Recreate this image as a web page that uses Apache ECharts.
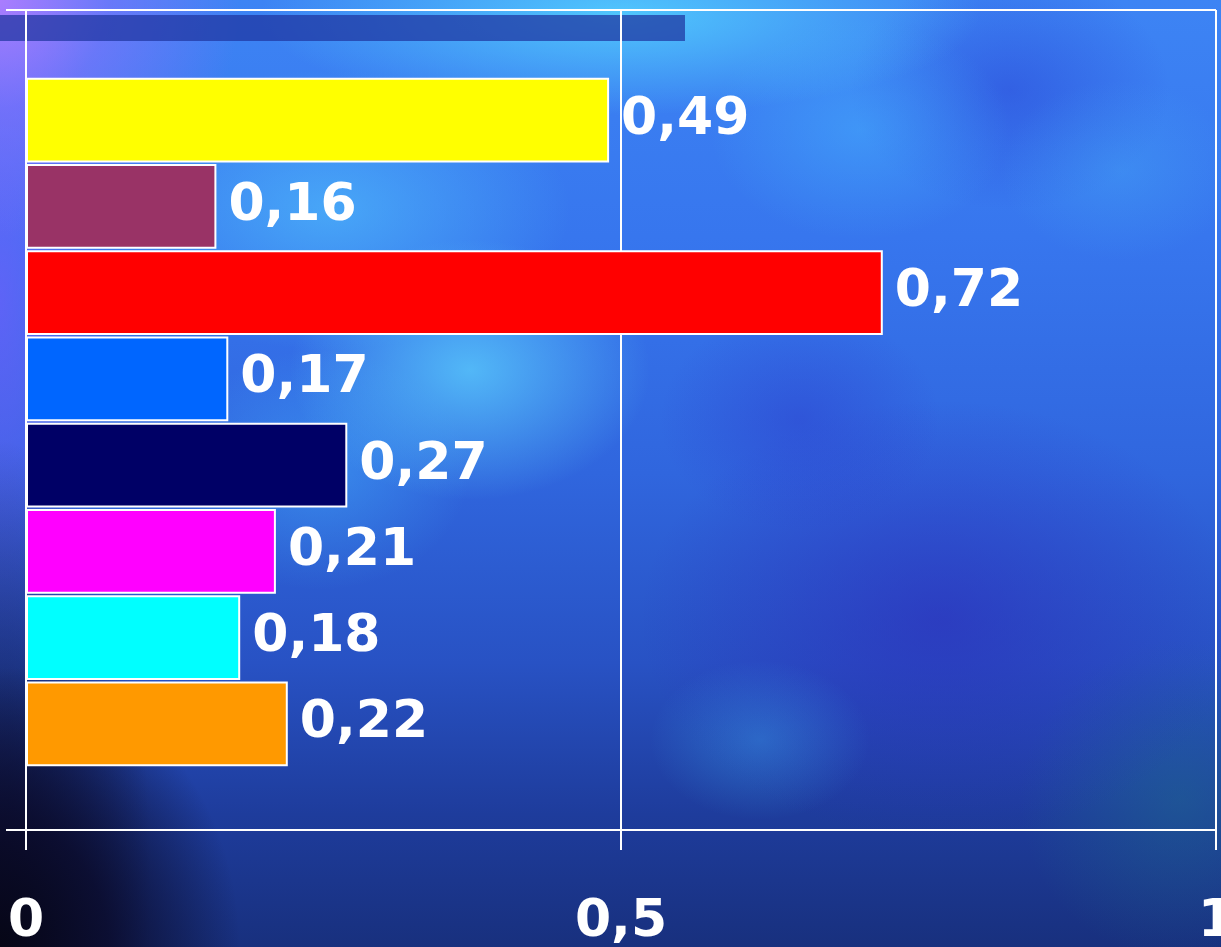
<!DOCTYPE html>
<html>
<head>
<meta charset="utf-8">
<script src="https://cdn.jsdelivr.net/npm/echarts@6/dist/echarts.min.js"></script>
<style>
  html, body { margin: 0; padding: 0; width: 1221px; height: 947px; overflow: hidden; }
  #bg {
    position: absolute; left: 0; top: 0; width: 1221px; height: 947px;
    background:
      radial-gradient(ellipse 240px 280px at 0px 947px, rgba(6,6,22,1) 0%, rgba(10,10,40,0.85) 45%, rgba(10,10,40,0) 100%),
      radial-gradient(ellipse 150px 420px at 0px 860px, rgba(12,12,45,0.8) 0%, rgba(12,12,45,0) 100%),
      radial-gradient(ellipse 240px 240px at 0px 0px, rgba(175,125,255,0.95) 0%, rgba(150,110,255,0.5) 45%, rgba(150,110,255,0) 100%),
      radial-gradient(ellipse 110px 380px at 0px 300px, rgba(120,90,255,0.6) 0%, rgba(120,90,255,0) 100%),
      radial-gradient(ellipse 180px 130px at 470px 370px, rgba(95,215,255,0.7) 0%, rgba(95,215,255,0) 100%),
      radial-gradient(ellipse 240px 140px at 330px 210px, rgba(85,205,255,0.55) 0%, rgba(85,205,255,0) 100%),
      radial-gradient(ellipse 360px 100px at 620px 15px, rgba(85,215,255,0.8) 0%, rgba(85,215,255,0) 100%),
      radial-gradient(ellipse 150px 110px at 860px 130px, rgba(70,180,255,0.45) 0%, rgba(70,180,255,0) 100%),
      radial-gradient(ellipse 120px 90px at 1120px 170px, rgba(70,170,245,0.35) 0%, rgba(70,170,245,0) 100%),
      radial-gradient(ellipse 110px 80px at 760px 740px, rgba(60,170,240,0.35) 0%, rgba(60,170,240,0) 100%),
      radial-gradient(ellipse 150px 120px at 320px 470px, rgba(70,190,255,0.4) 0%, rgba(70,190,255,0) 100%),
      radial-gradient(ellipse 160px 120px at 1010px 90px, rgba(40,60,210,0.45) 0%, rgba(40,60,210,0) 100%),
      radial-gradient(ellipse 140px 110px at 800px 420px, rgba(45,60,205,0.45) 0%, rgba(45,60,205,0) 100%),
      radial-gradient(ellipse 300px 220px at 940px 620px, rgba(45,40,185,0.55) 0%, rgba(45,40,185,0) 100%),
      radial-gradient(ellipse 160px 160px at 1180px 800px, rgba(30,110,140,0.45) 0%, rgba(30,110,140,0) 100%),
      linear-gradient(to bottom, #3d84f4 0%, #3776ee 25%, #3066de 50%, #2852c4 70%, #1e3c9c 86%, #18307e 100%);
  }
  #chart { position: absolute; left: 0; top: 0; width: 1221px; height: 947px; }
</style>
</head>
<body>
<div id="bg"></div>
<div id="chart"></div>
<script>
// Bar chart data, listed top to bottom
const categories = ['A', 'B', 'C', 'D', 'E', 'F', 'G', 'H'];
const values = [0.49, 0.16, 0.72, 0.17, 0.27, 0.21, 0.18, 0.22];
const barColors = ['#ffff00', '#993366', '#ff0000', '#0066ff', '#000066', '#ff00ff', '#00ffff', '#ff9900'];
const xTicks = [0, 0.5, 1];

const commaDecimal = v => String(v).replace('.', ',');
const white = '#ffffff';
const textFont = { color: white, fontSize: 52, fontWeight: 'bold', fontFamily: 'DejaVu Sans' };

const chart = echarts.init(document.getElementById('chart'), null, { renderer: 'canvas' });

chart.setOption({
  backgroundColor: 'transparent',
  animation: false,
  graphic: [{
    type: 'rect',
    left: 0, top: 15,
    shape: { width: 685, height: 26 },
    style: { fill: 'rgba(30,52,160,0.72)' },
    z: 0
  }],
  grid: [
    // frame grid: split lines, ticks and the value labels
    { left: 26, right: 5, top: 10, bottom: 117, outerBoundsMode: 'none', containLabel: false },
    // bar grid: the eight bands sit inside the frame
    { left: 26, right: 5, top: 77, bottom: 180, outerBoundsMode: 'none', containLabel: false }
  ],
  xAxis: [
    {
      gridIndex: 0, type: 'value',
      min: xTicks[0], max: xTicks[xTicks.length - 1], interval: xTicks[1] - xTicks[0],
      axisLine: { show: true, lineStyle: { color: white, width: 2 } },
      axisTick: { show: true, length: 20, lineStyle: { color: white, width: 2 } },
      splitLine: { show: true, lineStyle: { color: white, width: 2 } },
      axisLabel: Object.assign({ margin: 66, formatter: commaDecimal, hideOverlap: false }, textFont)
    },
    { gridIndex: 1, type: 'value', min: 0, max: 1, show: false }
  ],
  yAxis: [
    {
      gridIndex: 0, type: 'value', min: 0, max: 1, interval: 1,
      axisLine: { show: true, lineStyle: { color: white, width: 2 } },
      axisTick: { show: true, length: 20, lineStyle: { color: white, width: 2 } },
      splitLine: { show: true, lineStyle: { color: white, width: 2 } },
      axisLabel: { show: false }
    },
    { gridIndex: 1, type: 'category', data: categories, inverse: true, show: false }
  ],
  series: [{
    type: 'bar',
    xAxisIndex: 1, yAxisIndex: 1,
    barCategoryGap: '2%',
    data: values.map((v, i) => ({ value: v, itemStyle: { color: barColors[i] } })),
    itemStyle: { borderColor: white, borderWidth: 2 },
    label: Object.assign({ show: true, position: 'right', distance: 12, formatter: p => commaDecimal(p.value) }, textFont)
  }]
});
</script>
</body>
</html>
